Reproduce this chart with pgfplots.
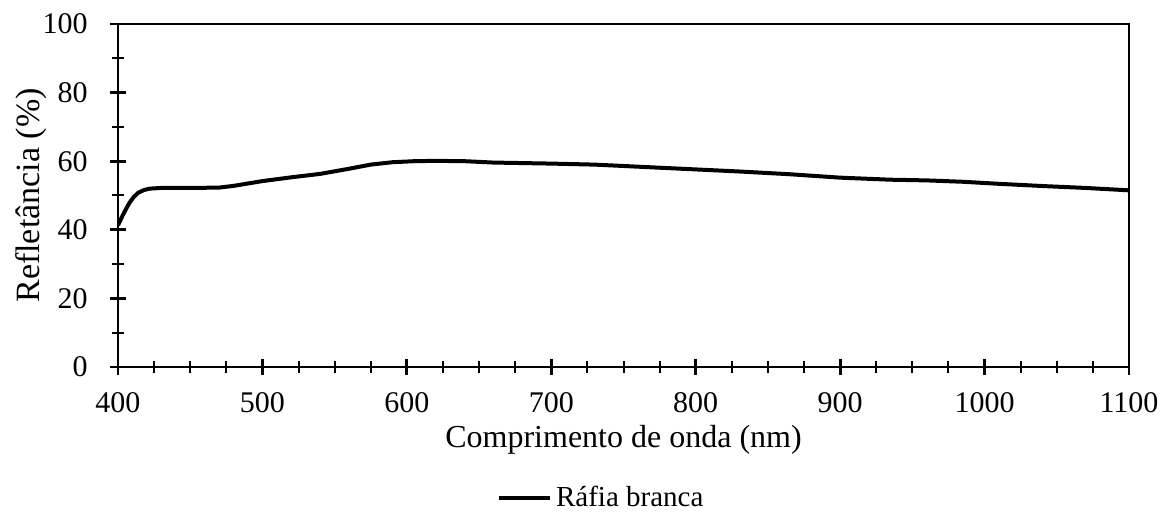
\documentclass[border=0pt]{standalone}
\usepackage{pgfplots}
\pgfplotsset{compat=1.18}
\usepackage{fontspec}
\setmainfont{Liberation Serif}

% Reflectance spectrum of white raffia
\pgfplotstableread{
x y
400 41.3
403 44.0
406 46.4
408 47.9
411 49.6
414 50.8
418 51.6
422 52.0
430 52.2
450 52.2
470 52.3
480 52.8
490 53.5
500 54.2
520 55.3
540 56.3
560 57.8
575 59.0
590 59.7
605 60.0
620 60.1
640 60.0
660 59.6
700 59.3
730 59.0
760 58.4
800 57.6
830 57.0
865 56.2
900 55.2
935 54.6
960 54.4
985 54.0
1010 53.4
1043 52.7
1070 52.2
1100 51.5
}\rafia

\begin{document}
\begin{tikzpicture}
\begin{axis}[
  name=ax, at={(0,0)}, anchor=south west,
  scale only axis, width=505.5pt, height=171.5pt,
  xmin=400, xmax=1100, ymin=0, ymax=100,
  xtick={400,500,...,1100}, ytick={0,20,...,100},
  minor x tick num=3, minor y tick num=1,
  xtick pos=left, ytick pos=left,
  tick align=center,
  major tick length=8pt, minor tick length=6pt,
  axis line style={line width=1.2pt},
  major tick style={line width=1.4pt, black},
  minor tick style={line width=1pt, black},
  /pgf/number format/assume math mode=true,
  /pgf/number format/1000 sep={},
  tick label style={font=\fontsize{15}{18}\selectfont},
  xticklabel style={anchor=north, inner sep=0pt, yshift=-8.5pt},
  yticklabel style={anchor=east, inner sep=0pt, xshift=-11pt},
  xlabel={Comprimento de onda (nm)},
  xlabel style={at={(axis description cs:0.5,0)}, anchor=base, yshift=-40.5pt, inner sep=0pt, font=\fontsize{16}{19}\selectfont},
  ylabel={Refletância (\%)},
  ylabel style={at={(axis description cs:-0.0772,0.5)}, anchor=base, rotate=0, inner sep=0pt, font=\fontsize{17}{20}\selectfont},
  legend style={at={(axis description cs:0.479,-0.382)}, anchor=center, draw=none, fill=none, inner sep=0pt, font=\fontsize{14.5}{17}\selectfont},
  legend image code/.code={\draw[line width=2pt] (0pt,0pt) -- (25.5pt,0pt);},
]
\addplot[black, line width=2pt] table[x=x, y=y] {\rafia};
\addlegendentry{Ráfia branca}
\end{axis}
\pgfresetboundingbox
\path (-59pt,-72.5pt) rectangle (521.5pt,183.5pt);
\end{tikzpicture}
\end{document}
